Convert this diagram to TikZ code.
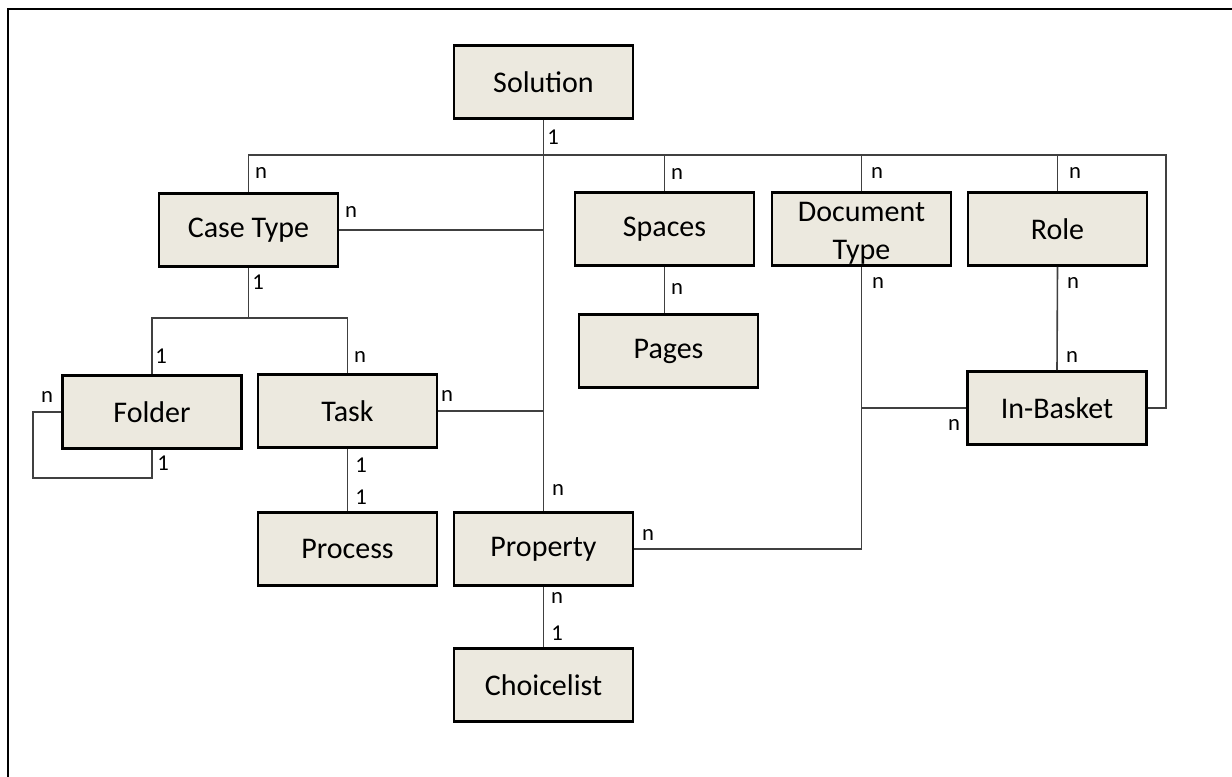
\documentclass[tikz,border=0pt]{standalone}
\usepackage{fontspec}
\setmainfont{Carlito}
\definecolor{boxfill}{HTML}{ECE9DF}
\definecolor{linkgray}{HTML}{404040}

\begin{document}
\begin{tikzpicture}[x=0.75pt,y=-0.75pt,
  entity/.style={draw=black,line width=1.9pt,fill=boxfill,minimum width=179*0.75pt,
    minimum height=73*0.75pt,inner sep=0pt,font=\fontsize{22.5}{28}\selectfont,align=center},
  card/.style={inner sep=0pt,font=\fontsize{17}{20}\selectfont},
  link/.style={draw=linkgray,line width=1.2pt}]
\useasboundingbox (0,0) rectangle (1232,776);
\draw [black,line width=1.5pt] (8,780) -- (8,9) -- (1236,9);
% entities
\node [entity] (sol) at (543.5,82) {Solution};
\node [entity] (case) at (248.5,230) {Case Type};
\node [entity] (spaces) at (664.5,229) {Spaces};
\node [entity,text height=50pt,text depth=4.7pt] (doc) at (861.5,229) {Document\\Type};
\node [entity] (role) at (1057.5,229) {Role};
\node [entity] (pages) at (668.5,351) {Pages};
\node [entity] (folder) at (152,412) {Folder};
\node [entity] (task) at (347.5,411) {Task};
\node [entity] (inbox) at (1057,408) {In-Basket};
\node [entity] (proc) at (347.5,549) {Process};
\node [entity] (prop) at (543.5,549) {Property};
\node [entity] (choice) at (543.5,685) {Choicelist};
% connectors
\coordinate (busL) at (248.5,155);
\coordinate (busR) at (1166,155);
\coordinate (fork) at (248.5,318);
\coordinate (loop) at (33,478);
\draw [link] (case.north) -- (busL) -- (busR) |- (inbox.east);
\draw [link] (sol.south) -- (prop.north);
\draw [link] (spaces.north) -- (spaces.north |- busL);
\draw [link] (doc.north) -- (doc.north |- busL);
\draw [link] (role.north) -- (role.north |- busL);
\draw [link] (case.east) -- (case.east -| sol.south);
\draw [link] (task.east) -- (task.east -| sol.south);
\draw [link] (case.south) -- (fork);
\draw [link] (folder.north) |- (fork) -| (task.north);
\draw [link] (folder.west) -| (loop) -| (folder.south);
\draw [link] (task.south) -- (proc.north);
\draw [link] (spaces.south) -- (spaces.south |- pages.north);
\draw [link] (doc.south) |- (prop.east);
\draw [link] (inbox.west) -- (inbox.west -| doc.south);
\draw [link] (role.south) -- (inbox.north);
\draw [link] (prop.south) -- (choice.north);
% cardinalities
\node [card] (cSol) at (553,137) {1};
\node [card] (cCaseTop) at (261,173) {n};
\node [card] (cSpacesTop) at (677,174) {n};
\node [card] (cDocTop) at (877,173) {n};
\node [card] (cRoleTop) at (1075,173) {n};
\node [card] (cCaseRight) at (351,212) {n};
\node [card] (cCaseBot) at (258,282) {1};
\node [card] (cSpacesBot) at (677,289) {n};
\node [card] (cDocBot) at (878,283) {n};
\node [card] (cRoleBot) at (1073,283) {n};
\node [card] (cFolderTop) at (161,356) {1};
\node [card] (cTaskTop) at (360,357) {n};
\node [card] (cInboxTop) at (1072,357) {n};
\node [card] (cTaskRight) at (447,396) {n};
\node [card] (cFolderLeft) at (47,397) {n};
\node [card] (cInboxLeft) at (954,425) {n};
\node [card] (cFolderBot) at (163,463) {1};
\node [card] (cTaskBot) at (361,465) {1};
\node [card] (cProcTop) at (361,497) {1};
\node [card] (cPropTop) at (558,490) {n};
\node [card] (cPropRight) at (648,535) {n};
\node [card] (cPropBot) at (557,598) {n};
\node [card] (cChoiceTop) at (557,633) {1};
\end{tikzpicture}
\end{document}
